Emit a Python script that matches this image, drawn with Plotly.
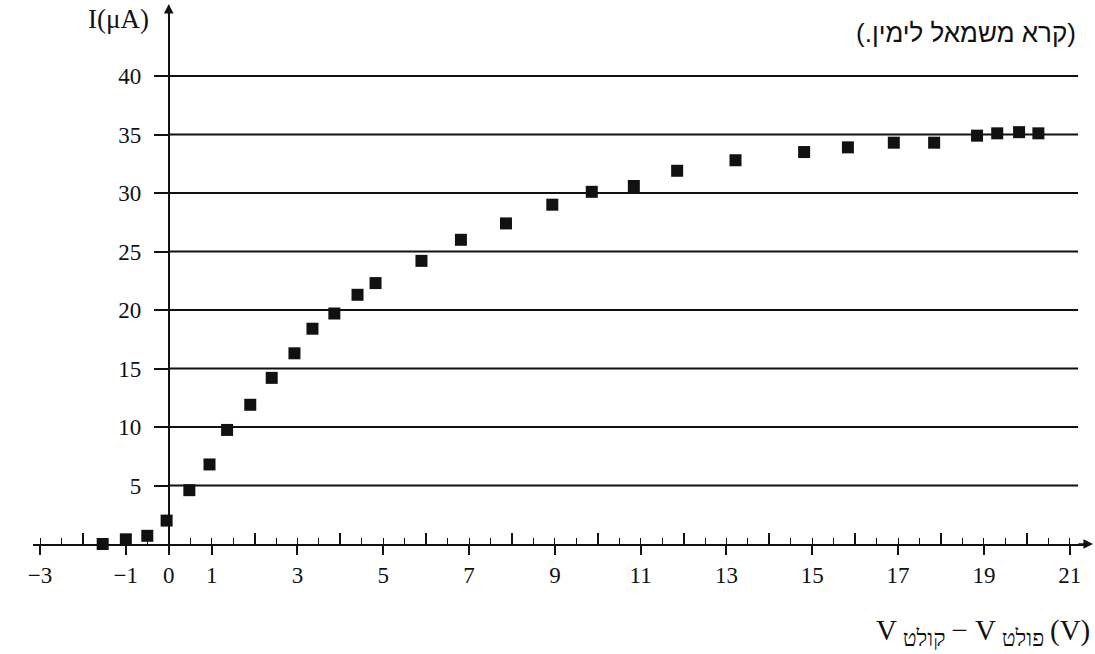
import plotly.graph_objects as go

# ---- data ----
V = [-1.54, -1.0, -0.5, -0.05, 0.48, 0.95, 1.36, 1.9, 2.4, 2.93, 3.35, 3.86, 4.4, 4.82,
     5.89, 6.81, 7.86, 8.94, 9.86, 10.84, 11.85, 13.21, 14.81, 15.83, 16.9, 17.84,
     18.84, 19.31, 19.82, 20.27]
I = [0.0, 0.4, 0.7, 2.0, 4.6, 6.8, 9.75, 11.9, 14.2, 16.3, 18.4, 19.7, 21.3, 22.3,
     24.2, 26.0, 27.4, 29.0, 30.1, 30.6, 31.9, 32.8, 33.5, 33.9, 34.3, 34.3,
     34.9, 35.1, 35.2, 35.1]

X_TICKS = [-3, -1, 0, 1, 3, 5, 7, 9, 11, 13, 15, 17, 19, 21]
X_TICKTEXT = ["\u22123", "\u22121", "0", "1", "3", "5", "7", "9", "11", "13", "15", "17", "19", "21"]
X_EVEN = [-2, 2, 4, 6, 8, 10, 12, 14, 16, 18, 20]
Y_TICKS = [5, 10, 15, 20, 25, 30, 35, 40]

Y_TITLE = "I(\u03bcA)"
SUB1 = "\u05e7\u05d5\u05dc\u05d8"
SUB2 = "\u05e4\u05d5\u05dc\u05d8"
X_TITLE = ("V<sub><span style='font-size:23px'> " + SUB1 + " </span></sub>\u2212 V"
           "<sub><span style='font-size:23px'> " + SUB2 + " </span></sub>(V)")
NOTE = "\u202b(\u05e7\u05e8\u05d0 \u05de\u05e9\u05de\u05d0\u05dc \u05dc\u05d9\u05de\u05d9\u05df.)\u202c"

# ---- layout geometry ----
W, H = 1095, 654
X0PX, UX = 164.5, 43.1
Y0PX, UY = 544.0, 11.7
LEFT_PX, RIGHT_PX, TOP_PX, GRID_END_PX = 28, 1085, 12, 1078

xrange = [(LEFT_PX - X0PX) / UX, (RIGHT_PX - X0PX) / UX]
yrange = [0, (Y0PX - TOP_PX) / UY]
xdomain = [LEFT_PX / W, RIGHT_PX / W]
ydomain = [(H - Y0PX) / H, (H - TOP_PX) / H]

SERIF = "Liberation Serif, Times New Roman, serif"
INK = "#111111"

fig = go.Figure()
fig.add_trace(go.Scatter(
    x=V, y=I, mode="markers",
    marker=dict(symbol="square", size=12, color=INK),
    cliponaxis=False, showlegend=False, hoverinfo="skip",
))
fig.add_trace(go.Scatter(x=[None], y=[None], xaxis="x2", yaxis="y",
                         showlegend=False, hoverinfo="skip"))

grid_shapes = [
    dict(type="line", xref="x", yref="y", x0=0, x1=(GRID_END_PX - X0PX) / UX,
         y0=v, y1=v, line=dict(color=INK, width=1.8), layer="below")
    for v in Y_TICKS
]

fig.update_layout(
    width=W, height=H, autosize=False,
    margin=dict(l=0, r=0, t=0, b=0),
    paper_bgcolor="white", plot_bgcolor="white",
    font=dict(family=SERIF, size=23, color=INK),
    xaxis=dict(
        domain=xdomain, range=xrange, anchor="y",
        showline=True, linecolor=INK, linewidth=1.8,
        showgrid=False, zeroline=False,
        tickmode="array", tickvals=X_TICKS, ticktext=X_TICKTEXT,
        ticks="outside", ticklen=9, tickwidth=1.6, tickcolor=INK,
        tickfont=dict(family=SERIF, size=23, color=INK),
        minor=dict(dtick=0.5, tick0=-3, ticks="inside", ticklen=6,
                   tickwidth=1.4, tickcolor=INK, showgrid=False),
    ),
    xaxis2=dict(
        domain=xdomain, range=xrange, anchor="y", overlaying="x", side="bottom",
        showline=False, showgrid=False, zeroline=False, showticklabels=False,
        tickmode="array", tickvals=X_EVEN,
        ticks="inside", ticklen=11, tickwidth=1.6, tickcolor=INK,
    ),
    yaxis=dict(
        domain=ydomain, range=yrange, anchor="free", position=X0PX / W,
        showline=True, linecolor=INK, linewidth=1.8,
        showgrid=False, zeroline=False,
        tickmode="array", tickvals=Y_TICKS,
        ticks="outside", ticklen=14, tickwidth=1.8, tickcolor=INK,
        ticklabelstandoff=8,
        tickfont=dict(family=SERIF, size=23, color=INK),
    ),
    shapes=grid_shapes,
    annotations=[
        dict(x=X0PX / W, y=(H - 4) / H, xref="paper", yref="paper", text="",
             showarrow=True, ax=0, ay=16, arrowhead=2, arrowsize=1.2,
             arrowwidth=1.6, arrowcolor=INK),
        dict(x=1093 / W, y=(H - Y0PX) / H, xref="paper", yref="paper", text="",
             showarrow=True, ax=-16, ay=0, arrowhead=2, arrowsize=1.2,
             arrowwidth=1.6, arrowcolor=INK),
        dict(x=147 / W, y=(H - 19) / H, xref="paper", yref="paper", text=Y_TITLE,
             showarrow=False, xanchor="right", yanchor="middle",
             font=dict(family=SERIF, size=27, color=INK)),
        dict(x=1078 / W, y=(H - 33) / H, xref="paper", yref="paper", text=NOTE,
             showarrow=False, xanchor="right", yanchor="middle",
             font=dict(family="Liberation Sans, DejaVu Sans, sans-serif", size=26, color=INK)),
        dict(x=1092 / W, y=(H - 632) / H, xref="paper", yref="paper", text=X_TITLE,
             showarrow=False, xanchor="right", yanchor="middle",
             font=dict(family=SERIF, size=29, color=INK)),
    ],
)

fig.write_html("out.html", config={"displayModeBar": False},
               post_script="document.body.style.margin='0';document.body.style.overflow='hidden';")
